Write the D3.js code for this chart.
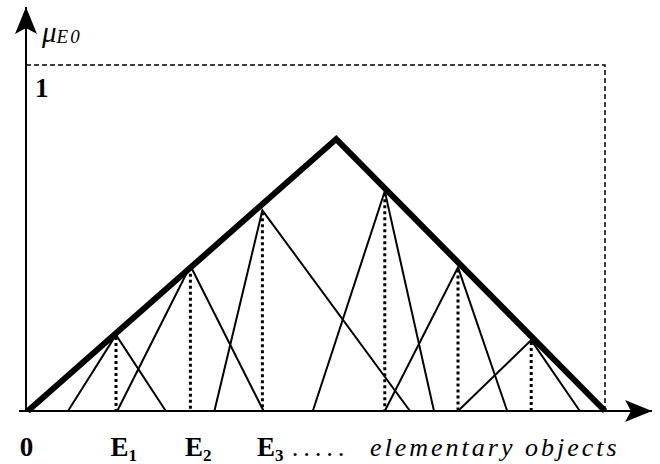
<!DOCTYPE html>
<html>
<head>
<meta charset="utf-8">
<script src="https://cdn.jsdelivr.net/npm/d3@7"></script>
<style>
  body { margin: 0; background: #fff; }
  svg { display: block; font-family: "Liberation Serif", "Times New Roman", serif; }
</style>
</head>
<body>
<div id="chart"></div>
<script>
// 1: DATA (x in arbitrary "object" units, y is the membership value mu)
const envelopeX = [0.3, 51.7, 96.5];
const envelopeMu = [0, 0.786, 0];

// small triangles: apex on the envelope, feet on the axis
const peakX = [15, 27.4, 39.4, 59.8, 72, 84.2];
const peakMu = [0.22, 0.42, 0.58, 0.635, 0.415, 0.205];
const footLeft = [7, 15.2, 31.4, 47.8, 59.8, 72];
const footRight = [23.3, 39.6, 64, 68, 80.2, 92.3];

// x tick labels (main text, subscript)
const tickValues = [0, 15, 27.4, 39.4];
const tickLabels = [["0", ""], ["E", "1"], ["E", "2"], ["E", "3"]];

// dashed frame at mu = 1
const frameMu = 1;
const frameX = 96.5;

// 2: SVG + SCALES
const W = 660, H = 464;
const svg = d3.select("#chart").append("svg")
    .attr("width", W)
    .attr("height", H);

const x = d3.scaleLinear().domain([0, 100]).range([26, 626]);
const y = d3.scaleLinear().domain([0, 1]).range([411, 65]);

// arrow head marker
svg.append("defs").append("marker")
    .attr("id", "arrow")
    .attr("markerUnits", "userSpaceOnUse")
    .attr("viewBox", "-30 -13 32 26")
    .attr("markerWidth", 32)
    .attr("markerHeight", 26)
    .attr("refX", 0)
    .attr("refY", 0)
    .attr("orient", "auto")
    .append("path")
    .attr("d", "M0,0 L-27,-11 L-21,0 L-27,11 Z")
    .attr("fill", "#000");

// 3: DASHED FRAME
svg.append("path")
    .attr("d", d3.line()([[x(0), y(frameMu)], [x(frameX), y(frameMu)], [x(frameX), y(0)]]))
    .attr("fill", "none")
    .attr("stroke", "#000")
    .attr("stroke-width", 1.5)
    .attr("stroke-dasharray", "5,3");

// 4: DOTTED DROP LINES
svg.selectAll(".drop")
    .data(peakX)
    .enter()
    .append("line")
    .attr("class", "drop")
    .attr("x1", d => x(d))
    .attr("x2", d => x(d))
    .attr("y1", (d, i) => y(peakMu[i]) + 2)
    .attr("y2", y(0))
    .attr("stroke", "#000")
    .attr("stroke-width", 3)
    .attr("stroke-dasharray", "3,3");

// 5: SMALL TRIANGLES
const line = d3.line()
    .x(d => x(d[0]))
    .y(d => y(d[1]));

svg.selectAll(".tri")
    .data(peakX.map((p, i) => [[footLeft[i], 0], [p, peakMu[i]], [footRight[i], 0]]))
    .enter()
    .append("path")
    .attr("class", "tri")
    .attr("d", line)
    .attr("fill", "none")
    .attr("stroke", "#000")
    .attr("stroke-width", 2);

// 6: ENVELOPE
svg.append("path")
    .attr("d", line(envelopeX.map((v, i) => [v, envelopeMu[i]])))
    .attr("fill", "none")
    .attr("stroke", "#000")
    .attr("stroke-width", 6)
    .attr("stroke-linejoin", "miter");

// 7: AXES WITH ARROWS
svg.append("line")
    .attr("x1", x(0)).attr("y1", y(0))
    .attr("x2", x(0)).attr("y2", 7)
    .attr("stroke", "#000")
    .attr("stroke-width", 2)
    .attr("marker-end", "url(#arrow)");

svg.append("line")
    .attr("x1", 19).attr("y1", y(0))
    .attr("x2", 652).attr("y2", y(0))
    .attr("stroke", "#000")
    .attr("stroke-width", 2)
    .attr("marker-end", "url(#arrow)");

const xAxis = svg.append("g")
    .attr("transform", `translate(0,${y(0)})`)
    .call(d3.axisBottom(x).tickValues(tickValues).tickSize(0).tickFormat(""));
xAxis.select(".domain").remove();

xAxis.selectAll(".tick text")
    .attr("y", 45)
    .attr("dy", null)
    .attr("fill", "#000")
    .attr("font-family", "Liberation Serif, Times New Roman, serif")
    .attr("text-anchor", (d, i) => i === 0 ? "middle" : "start")
    .attr("dx", (d, i) => i === 0 ? 0 : -6)
    .each(function(d, i) {
        const t = d3.select(this);
        t.append("tspan")
            .attr("font-size", 27)
            .attr("font-weight", "bold")
            .text(tickLabels[i][0]);
        if (tickLabels[i][1]) {
            t.append("tspan")
                .attr("font-size", 17)
                .attr("font-weight", "bold")
                .attr("dy", 5)
                .text(tickLabels[i][1]);
        }
        if (i === tickValues.length - 1) {
            t.append("tspan")
                .attr("dx", 9)
                .attr("dy", -5)
                .attr("font-size", 26)
                .attr("font-style", "italic")
                .attr("letter-spacing", 5)
                .text(".....");
            t.append("tspan")
                .attr("dx", 20)
                .attr("font-size", 26)
                .attr("font-style", "italic")
                .attr("letter-spacing", 3)
                .text("elementary objects");
        }
    });

// 8: Y LABELS
svg.append("text")
    .attr("x", 35)
    .attr("y", 97)
    .attr("font-size", 27)
    .attr("font-weight", "bold")
    .text("1");

const mu = svg.append("text")
    .attr("x", 42)
    .attr("y", 42)
    .attr("font-size", 29)
    .attr("font-style", "italic");
mu.append("tspan").text("μ");
mu.append("tspan")
    .attr("font-size", 19)
    .attr("dy", 1)
    .attr("letter-spacing", 2)
    .text("E0");
</script>
</body>
</html>
